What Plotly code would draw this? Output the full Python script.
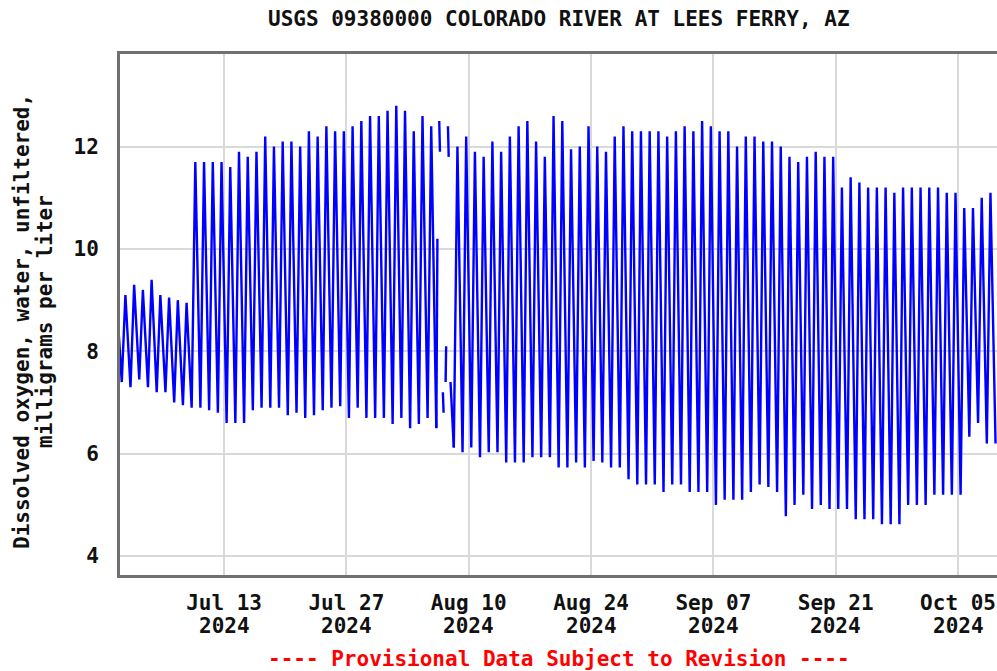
import plotly.graph_objects as go
import pandas as pd

# ---------------- data ----------------
first_day = "2024-06-30"
# daily maximum dissolved oxygen (mg/L), Jun 30 .. Oct 09 2024
daily_max = [9.0,
             9.1, 9.3, 9.2, 9.4, 9.1, 9.05, 9.0, 8.95,
             11.7, 11.7, 11.7, 11.7, 11.6, 11.9, 11.8, 11.9, 12.2, 12.0,
             12.1, 12.1, 12.0, 12.3, 12.2, 12.4, 12.3, 12.3, 12.4, 12.5,
             12.6, 12.6, 12.7, 12.8, 12.7, 12.3, 12.6, 12.4,
             None, None,
             12.0, 12.2, 11.9, 11.8, 12.1, 11.9, 12.2, 12.4, 12.5, 12.1,
             11.8, 12.6, 12.5, 11.95, 12.0, 12.4, 12.0, 11.9, 12.2, 12.4,
             12.3, 12.3, 12.3, 12.3, 12.2, 12.3, 12.4, 12.3, 12.5, 12.4,
             12.3, 12.3, 12.0, 12.2, 12.2, 12.1, 12.1, 12.0, 11.8, 11.7,
             11.8, 11.9, 11.8, 11.8, 11.2, 11.4, 11.3, 11.2, 11.2, 11.2,
             11.1, 11.2, 11.2, 11.2, 11.2, 11.2, 11.1, 11.1, 10.8, 10.8,
             11.0, 11.1,
             None]
# daily minimum dissolved oxygen (mg/L), Jun 30 .. Oct 09 2024
daily_min = [None,
             7.4, 7.3, 7.45, 7.3, 7.2, 7.2, 7.0, 6.95,
             6.9, 6.9, 6.85, 6.8, 6.6, 6.6, 6.6, 6.85, 6.9, 6.9,
             6.9, 6.75, 6.8, 6.7, 6.75, 6.85, 6.9, 6.93, 6.7, 6.9,
             6.7, 6.7, 6.7, 6.58, 6.7, 6.5, 6.58, 6.7,
             6.5, None,
             6.12, 6.03, 6.12, 5.93, 6.03, 6.03, 5.83, 5.83, 5.83, 5.93,
             5.93, 5.93, 5.73, 5.73, 5.83, 5.73, 5.86, 5.83, 5.73, 5.73,
             5.5, 5.4, 5.4, 5.4, 5.25, 5.4, 5.4, 5.25, 5.25, 5.25,
             5.0, 5.1, 5.1, 5.1, 5.25, 5.4, 5.35, 5.25, 4.78, 5.0,
             5.2, 4.92, 5.0, 4.92, 4.92, 4.92, 4.72, 4.72, 4.72, 4.62,
             4.62, 4.62, 5.0, 5.0, 5.0, 5.2, 5.2, 5.2, 5.2, 6.33,
             6.6, 6.2,
             6.2]
min_hour = 7    # time of the daily minimum
max_hour = 17   # time of the daily maximum

# short fragments of record inside the early-August gap
frag_times = ["2024-08-06 07:00", "2024-08-06 10:00", None,
              "2024-08-06 15:00", "2024-08-06 17:00", None,
              "2024-08-07 01:00", "2024-08-07 03:00", None,
              "2024-08-07 08:30", "2024-08-07 10:00", None,
              "2024-08-07 15:00", "2024-08-07 17:00", None,
              "2024-08-07 22:00", "2024-08-08 07:00"]
frag_values = [6.5, 10.2, None,
               12.5, 11.9, None,
               7.2, 6.8, None,
               7.4, 8.1, None,
               12.4, 11.8, None,
               7.4, 6.12]

tick_dates = ["2024-07-13", "2024-07-27", "2024-08-10", "2024-08-24",
              "2024-09-07", "2024-09-21", "2024-10-05"]
tick_text = ["Jul 13", "Jul 27", "Aug 10", "Aug 24", "Sep 07", "Sep 21", "Oct 05"]
tick_year = "2024"
y_ticks = [4, 6, 8, 10, 12]

title_text = "USGS 09380000 COLORADO RIVER AT LEES FERRY, AZ"
y_title_lines = ["Dissolved oxygen, water, unfiltered,", "milligrams per liter"]
footer_text = "---- Provisional Data Subject to Revision ----"

# ---------------- build series ----------------
assert len(daily_max) == len(daily_min)
days = pd.date_range(first_day, periods=len(daily_max), freq="D")
xs, ys = [], []
for d, lo, hi in zip(days, daily_min, daily_max):
    xs.append(d + pd.Timedelta(hours=min_hour)); ys.append(lo)
    xs.append(d + pd.Timedelta(hours=max_hour)); ys.append(hi)

FONT = "DejaVu Sans Mono"
FS = 21
TXT = "#111111"
font_main = dict(family=FONT, size=FS, color=TXT, weight="bold")
line_style = dict(color="#0000ff", width=2.4)

# plot area in pixels
L, R, T, B = 120, 997, 54, 575
W, H = 997, 671
PW, PH = R - L, B - T


def px_x(x):
    return (x - L) / PW


def px_y(y):
    return (B - y) / PH


fig = go.Figure()
fig.add_trace(go.Scatter(x=xs, y=ys, mode="lines", line=line_style,
                         connectgaps=False, hoverinfo="skip"))
fig.add_trace(go.Scatter(x=frag_times, y=frag_values, mode="lines", line=line_style,
                         connectgaps=False, hoverinfo="skip"))

fig.update_layout(
    width=W, height=H,
    margin=dict(l=L, r=W - R, t=T, b=H - B, autoexpand=False),
    paper_bgcolor="white", plot_bgcolor="white",
    showlegend=False,
    font=font_main,
)
fig.update_xaxes(
    type="date",
    range=["2024-07-01 02:10", "2024-10-09 11:00"],
    tickvals=tick_dates, ticktext=tick_text,
    showgrid=True, gridcolor="#d9d9d9", gridwidth=2,
    showline=True, linecolor="#707070", linewidth=3, mirror=True,
    ticks="", ticklabelstandoff=7, automargin=False,
    tickfont=font_main,
    zeroline=False,
)
fig.update_yaxes(
    range=[3.63, 13.81],
    tickvals=y_ticks,
    showgrid=True, gridcolor="#d9d9d9", gridwidth=2,
    showline=True, linecolor="#707070", linewidth=3,
    ticks="", ticklabelstandoff=14, automargin=False,
    tickfont=font_main,
    zeroline=False,
)
# title
fig.add_annotation(text=title_text, xref="paper", yref="paper",
                   x=px_x(559), y=px_y(19), xanchor="center", yanchor="middle",
                   showarrow=False, font=font_main)
# year line under each date tick
for td in tick_dates:
    fig.add_annotation(text=tick_year, xref="x", yref="paper",
                       x=td, y=px_y(626), xanchor="center", yanchor="middle",
                       showarrow=False, font=font_main)
# y-axis title (two rotated lines)
for txt, xpix in zip(y_title_lines, [22, 45]):
    fig.add_annotation(text=txt, textangle=-90, xref="paper", yref="paper",
                       x=px_x(xpix), y=px_y(322), xanchor="center", yanchor="middle",
                       showarrow=False, font=font_main)
# footer
fig.add_annotation(text=footer_text, xref="paper", yref="paper",
                   x=px_x(559), y=px_y(659), xanchor="center", yanchor="middle",
                   showarrow=False, font=dict(family=FONT, size=FS, color="#ff0000", weight="bold"))

fig.write_html("out.html", config={"displayModeBar": False},
               post_script="document.body.style.margin='0';document.body.style.overflow='hidden';")
